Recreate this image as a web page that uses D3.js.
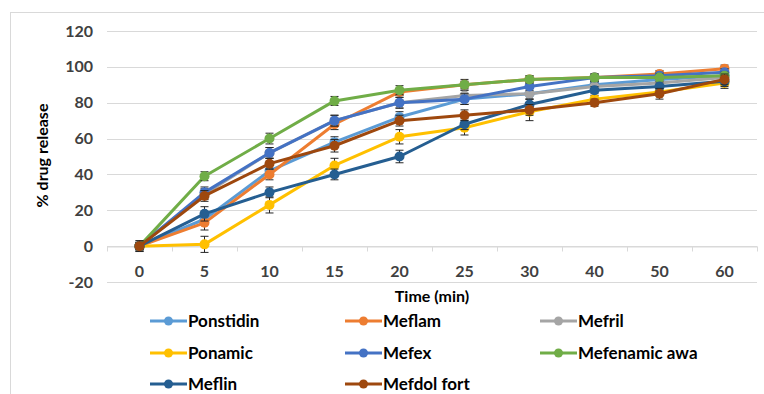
<!DOCTYPE html>
<html>
<head>
<meta charset="utf-8">
<script src="https://cdn.jsdelivr.net/npm/d3@7"></script>
<style>
  body { margin: 0; background: #fff; }
  svg { display: block; font-family: Lato, "Open Sans", sans-serif; }
</style>
</head>
<body>
<div id="chart"></div>
<script>
// x categories (minutes)
const times = ['0', '5', '10', '15', '20', '25', '30', '40', '50', '60'];
const yTicks = [-20, 0, 20, 40, 60, 80, 100, 120];

const seriesNames = ['Ponstidin', 'Meflam', 'Mefril', 'Ponamic', 'Mefex', 'Mefenamic awa', 'Meflin', 'Mefdol fort'];
const seriesColors = ['#5B9BD5', '#ED7D31', '#A5A5A5', '#FFC000', '#4472C4', '#70AD47', '#255E91', '#9E480E'];

const ponstidin   = [0, 15, 42, 58, 72, 82, 85, 90, 93, 95];
const meflam      = [0, 13, 40, 68, 86, 90, 93, 94, 96, 99];
const mefril      = [0, 29, 52, 70, 80, 84, 85, 89, 91, 94];
const ponamic     = [0, 1, 23, 45, 61, 66, 75, 82, 86, 91];
const mefex       = [0, 30, 52, 70, 80, 82, 89, 94, 95, 97];
const mefenamic   = [0, 39, 60, 81, 87, 90, 93, 94, 94, 95];
const meflin      = [0, 18, 30, 40, 50, 68, 79, 87, 89, 92];
const mefdolFort  = [0, 28, 46, 56, 70, 73, 76, 80, 85, 93];

// error bar half-widths
const errPonstidin  = [2, 3, 3, 3, 3, 3, 3, 2, 2, 2];
const errMeflam     = [2, 4, 3, 3, 2, 3, 2, 2, 2, 2];
const errMefril     = [2, 3, 3, 3, 3, 3, 3, 2, 2, 2];
const errPonamic    = [2, 4.5, 4.5, 4, 4, 4, 5, 2, 2, 3];
const errMefex      = [2, 3, 3, 3, 3, 3, 2, 2, 2, 2];
const errMefenamic  = [2, 2.5, 3, 2.5, 2.5, 2, 2, 2, 2, 2];
const errMeflin     = [3, 4, 3, 3, 3.5, 3, 3, 2, 2, 3];
const errMefdolFort = [3, 3, 3, 3.5, 3, 3, 3, 2, 3, 3];

const values = [ponstidin, meflam, mefril, ponamic, mefex, mefenamic, meflin, mefdolFort];
const errors = [errPonstidin, errMeflam, errMefril, errPonamic, errMefex, errMefenamic, errMeflin, errMefdolFort];

const width = 764, height = 394;
const plot = { left: 107, right: 757, top: 31, bottom: 282 };

const svg = d3.select('#chart').append('svg')
  .attr('width', width)
  .attr('height', height);

// chart area border
svg.append('rect')
  .attr('x', 10.5).attr('y', 12.5)
  .attr('width', 800).attr('height', 400)
  .attr('fill', 'none')
  .attr('stroke', '#D9D9D9');

const x = d3.scaleBand().domain(times).range([plot.left, plot.right]);
const y = d3.scaleLinear().domain([-20, 120]).range([plot.bottom, plot.top]);

// gridlines
svg.append('g')
  .selectAll('line')
  .data(yTicks)
  .join('line')
  .attr('x1', plot.left).attr('x2', plot.right)
  .attr('y1', d => Math.round(y(d)) + 0.5).attr('y2', d => Math.round(y(d)) + 0.5)
  .attr('stroke', '#D9D9D9');

// y tick labels
svg.append('g')
  .selectAll('text')
  .data(yTicks)
  .join('text')
  .attr('x', 93)
  .attr('y', d => y(d))
  .attr('dy', '0.35em')
  .attr('text-anchor', 'end')
  .attr('font-size', 16)
  .attr('font-weight', 'bold')
  .attr('fill', '#404040')
  .text(d => d);

// x axis at zero
const xAxis = svg.append('g')
  .attr('transform', `translate(0, ${Math.round(y(0)) + 0.5})`)
  .call(d3.axisBottom(x).tickSize(0).tickPadding(19));
xAxis.select('.domain').attr('stroke', '#D9D9D9');
xAxis.selectAll('text')
  .attr('font-size', 16)
  .attr('font-weight', 'bold')
  .attr('fill', '#404040')
  .attr('font-family', 'Lato, "Open Sans", sans-serif');
// category boundary ticks
xAxis.selectAll('.bound')
  .data(times.concat(['end']))
  .join('line')
  .attr('class', 'bound')
  .attr('x1', (d, i) => Math.round(plot.left + i * x.step()) + 0.5)
  .attr('x2', (d, i) => Math.round(plot.left + i * x.step()) + 0.5)
  .attr('y1', 0).attr('y2', 5)
  .attr('stroke', '#D9D9D9');

// axis titles
svg.append('text')
  .attr('x', (plot.left + plot.right) / 2)
  .attr('y', 302)
  .attr('text-anchor', 'middle')
  .attr('font-size', 16)
  .attr('font-weight', 'bold')
  .attr('fill', '#000')
  .text('Time (min)');

svg.append('text')
  .attr('transform', `translate(48, ${(y(120) + y(-20)) / 2 - 1}) rotate(-90)`)
  .attr('text-anchor', 'middle')
  .attr('font-size', 16)
  .attr('font-weight', 'bold')
  .attr('fill', '#000')
  .text('% drug release');

const cx = d => x(d) + x.bandwidth() / 2;
const line = d3.line().x(d => cx(d.t)).y(d => y(d.v));

values.forEach((vals, s) => {
  const pts = vals.map((v, i) => ({ t: times[i], v: v, e: errors[s][i] }));
  const g = svg.append('g');
  g.append('path')
    .datum(pts)
    .attr('d', line)
    .attr('fill', 'none')
    .attr('stroke', seriesColors[s])
    .attr('stroke-width', 3)
    .attr('stroke-linejoin', 'round');
  // error bars
  const eb = g.selectAll('.err').data(pts).join('g').attr('class', 'err')
    .attr('stroke', '#262626').attr('stroke-width', 1);
  eb.append('line')
    .attr('x1', d => cx(d.t)).attr('x2', d => cx(d.t))
    .attr('y1', d => y(d.v - d.e)).attr('y2', d => y(d.v + d.e));
  eb.append('line')
    .attr('x1', d => cx(d.t) - 4).attr('x2', d => cx(d.t) + 4)
    .attr('y1', d => y(d.v + d.e)).attr('y2', d => y(d.v + d.e));
  eb.append('line')
    .attr('x1', d => cx(d.t) - 4).attr('x2', d => cx(d.t) + 4)
    .attr('y1', d => y(d.v - d.e)).attr('y2', d => y(d.v - d.e));
  g.selectAll('circle').data(pts).join('circle')
    .attr('cx', d => cx(d.t))
    .attr('cy', d => y(d.v))
    .attr('r', 5)
    .attr('fill', seriesColors[s]);
});

// legend
const legCols = [150, 345, 540];
const legRows = [321, 353, 384];
const leg = svg.append('g')
  .selectAll('g')
  .data(seriesNames)
  .join('g')
  .attr('transform', (d, i) => `translate(${legCols[i % 3]}, ${legRows[Math.floor(i / 3)]})`);
leg.append('line')
  .attr('x1', 0).attr('x2', 37)
  .attr('stroke', (d, i) => seriesColors[i])
  .attr('stroke-width', 3);
leg.append('circle')
  .attr('cx', 18.5).attr('r', 4.5)
  .attr('fill', (d, i) => seriesColors[i]);
leg.append('text')
  .attr('x', 38)
  .attr('dy', '0.35em')
  .attr('font-size', 17)
  .attr('font-weight', 'bold')
  .attr('fill', '#000')
  .text(d => d);
</script>
</body>
</html>
